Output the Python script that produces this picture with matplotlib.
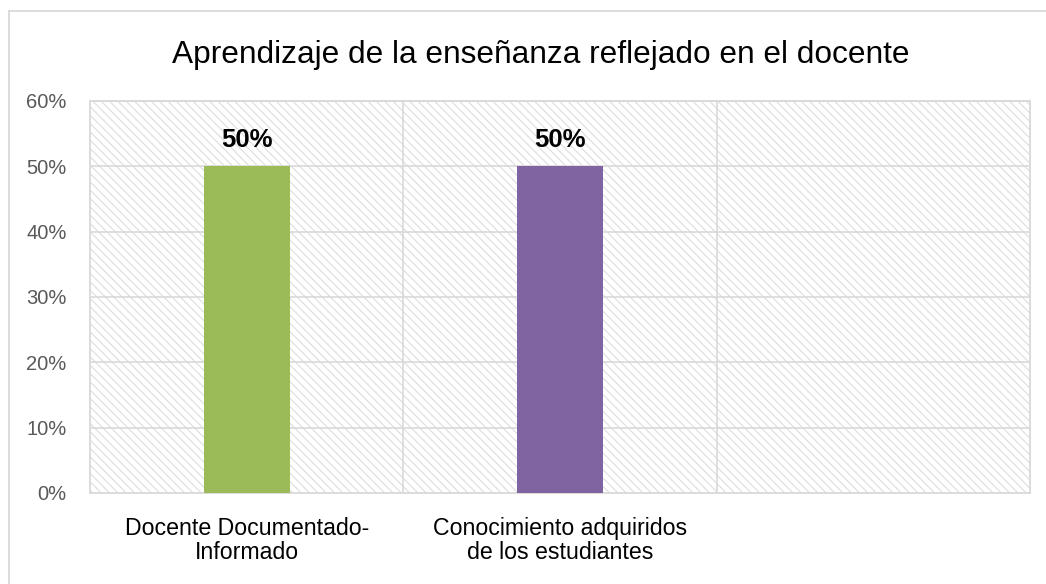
import matplotlib
matplotlib.use('Agg')
import matplotlib.pyplot as plt
from matplotlib.patches import Rectangle
from matplotlib.lines import Line2D
import numpy as np

# chart data
title = "Aprendizaje de la enseñanza reflejado en el docente"
categories = ["Docente Documentado-\nInformado", "Conocimiento adquiridos\nde los estudiantes", ""]
values = [0.50, 0.50, None]
bar_colors = ["#9BBB59", "#8064A2", "#4F81BD"]
y_ticks = [0, 0.1, 0.2, 0.3, 0.4, 0.5, 0.6]

grid_color = "#d9d9d9"

plt.rcParams['font.family'] = ['Liberation Sans', 'DejaVu Sans']
plt.rcParams['hatch.linewidth'] = 0.8

fig = plt.figure(figsize=(10.46, 5.84), dpi=100)
ax = fig.add_axes([90 / 1046, 1 - 493 / 584, 940 / 1046, 392 / 584])

# hatched plot background
ax.add_patch(Rectangle((0, 0), 1, 1, transform=ax.transAxes, facecolor='white',
                       edgecolor='#dedede', hatch='\\\\\\\\', lw=0, zorder=0))

x = np.arange(len(categories))
for i, v in enumerate(values):
    if v is None:
        continue
    ax.bar(x[i], v, width=0.275, color=bar_colors[i], zorder=3)
    ax.annotate("%d%%" % round(v * 100), (x[i], v), xytext=(0, 26),
                textcoords='offset pixels', ha='center', va='center',
                fontsize=18.5, fontweight='bold', color='black', zorder=4)

ax.set_xlim(-0.5, len(categories) - 0.5)
ax.set_ylim(0, 0.6)
ax.set_yticks(y_ticks)
ax.set_yticklabels(["%d%%" % round(t * 100) for t in y_ticks])
ax.tick_params(axis='y', length=0, pad=17, labelsize=14.5, labelcolor='#595959')
ax.tick_params(axis='x', length=0, pad=17)
ax.set_xticks(x)
ax.set_xticklabels(categories)
for lab in ax.get_xticklabels():
    lab.set_fontsize(16.7)
    lab.set_linespacing(1.05)

# grid lines
for t in y_ticks[1:]:
    ax.axhline(t, color=grid_color, lw=1.2, zorder=1)
for b in np.arange(0.5, len(categories) - 1, 1.0):
    ax.axvline(b, color=grid_color, lw=1.2, zorder=1)

for s in ax.spines.values():
    s.set_color(grid_color)
    s.set_linewidth(1.3)

fig.text(541 / 1046, 1 - 55 / 584, title, ha='center', va='center',
         fontsize=22.8, color='black')

# outer chart frame
fig.add_artist(Line2D([9 / 1046, 9 / 1046], [0, 1 - 11 / 584], transform=fig.transFigure,
                      color=grid_color, lw=1.3))
fig.add_artist(Line2D([9 / 1046, 1], [1 - 11 / 584, 1 - 11 / 584], transform=fig.transFigure,
                      color=grid_color, lw=1.3))

fig.savefig('out.png', dpi=100)
